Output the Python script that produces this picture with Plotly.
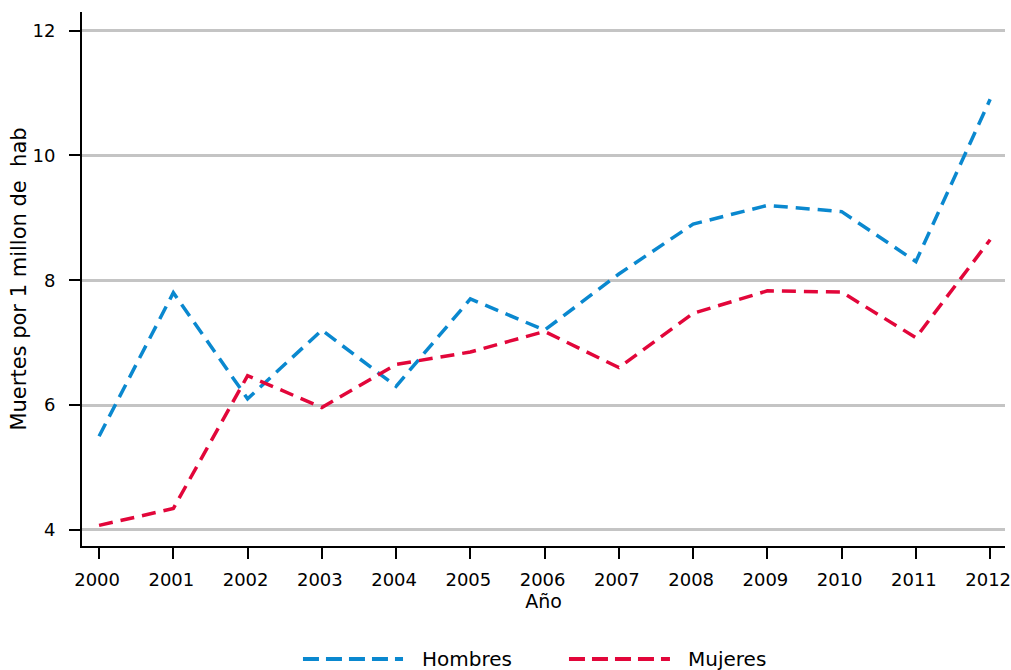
import plotly.graph_objects as go

years = list(range(2000, 2013))
hombres = [5.5, 7.8, 6.1, 7.2, 6.3, 7.7, 7.2, 8.1, 8.9, 9.2, 9.1, 8.3, 10.9]
mujeres = [4.07, 4.34, 6.47, 5.96, 6.65, 6.85, 7.18, 6.6, 7.47, 7.83, 7.81, 7.08, 8.65]
y_ticks = [4, 6, 8, 10, 12]
series_names = ["Hombres", "Mujeres"]
series_colors = ["#0a88cf", "#e2063a"]

font = "DejaVu Sans, sans-serif"
dash = "14px,8px"

fig = go.Figure()
for name, vals, col in zip(series_names, [hombres, mujeres], series_colors):
    fig.add_trace(go.Scatter(x=years, y=vals, name=name, mode="lines",
                             line=dict(color=col, width=3.5, dash=dash)))

# manual legend (wide dashed samples like the original)
leg_y = -0.2116
leg_items = [(0.2394, 0.3478, 0.3662), (0.5276, 0.637, 0.6544)]
for (x0, x1, xt), name, col in zip(leg_items, series_names, series_colors):
    fig.add_shape(type="line", xref="paper", yref="paper", x0=x0, x1=x1, y0=leg_y, y1=leg_y,
                  line=dict(color=col, width=4, dash="16px,7px"))
    fig.add_annotation(xref="paper", yref="paper", x=xt, y=leg_y, text=name, showarrow=False,
                       xanchor="left", yanchor="middle", font=dict(size=20, family=font, color="black"))

fig.update_layout(
    width=1011, height=670,
    margin=dict(l=82, r=6, t=12, b=124),
    plot_bgcolor="white", paper_bgcolor="white",
    font=dict(family=font, size=17, color="black"),
    showlegend=False,
    xaxis=dict(range=[1999.77, 2012.2], tickvals=years, ticks="outside", ticklen=11,
               tickwidth=2, tickcolor="black", showline=True, linecolor="black",
               linewidth=2, showgrid=False, zeroline=False, automargin=False,
               ticklabeloverflow="allow", ticklabelstandoff=5, ticklabelshift=-2,
               title=dict(text="Año", font=dict(size=19), standoff=4),
               tickfont=dict(size=18)),
    yaxis=dict(range=[3.74, 12.3], tickvals=y_ticks, ticks="outside", ticklen=11,
               tickwidth=2, tickcolor="black", showline=True, linecolor="black",
               linewidth=2, showgrid=True, gridcolor="#c4c4c4", gridwidth=2.5,
               zeroline=False, automargin=False, ticklabelstandoff=10,
               title=dict(text="Muertes por 1 millon de  hab", font=dict(size=21), standoff=0),
               tickfont=dict(size=18)),
)
fig.write_html(
    "out.html",
    config={"displayModeBar": False},
    post_script="document.body.style.margin='0';document.body.style.overflow='hidden';",
)
